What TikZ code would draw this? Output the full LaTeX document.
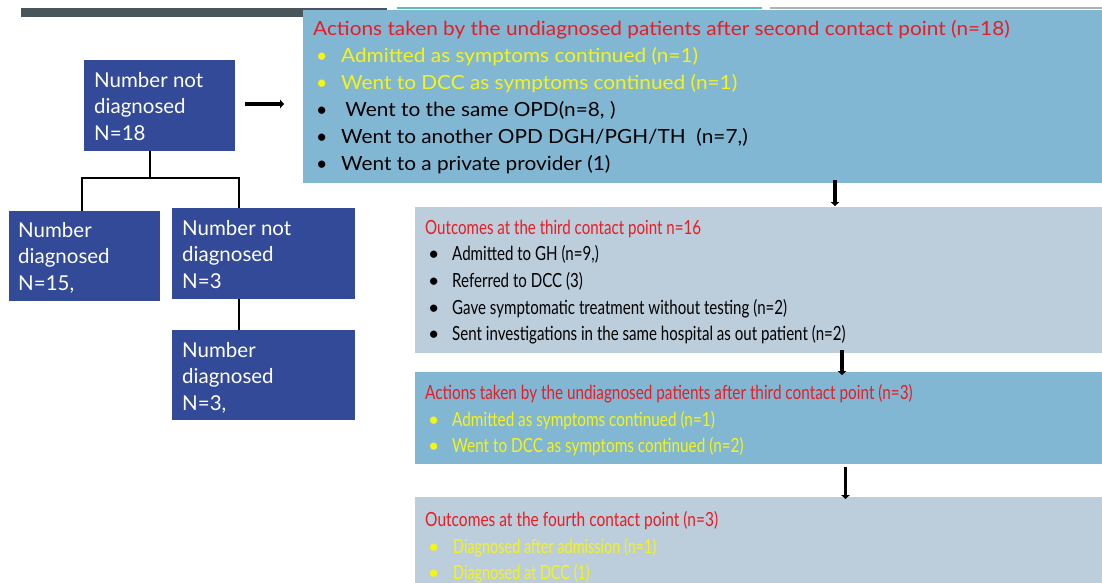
\documentclass[tikz,border=0pt]{standalone}
\usepackage{fontspec}
\setmainfont{Lato}
\usetikzlibrary{arrows.meta}

\definecolor{navybox}{RGB}{51,74,153}
\definecolor{skybox}{RGB}{130,183,212}
\definecolor{greybox}{RGB}{188,206,219}
\definecolor{headred}{RGB}{232,28,36}
\definecolor{hiyellow}{RGB}{246,244,22}
\definecolor{barslate}{RGB}{72,86,92}
\definecolor{barteal}{RGB}{90,190,190}
\definecolor{bargrey}{RGB}{175,178,180}

% horizontal squeeze / stretch of one line
\newcommand\sq[2]{\scalebox{#1}[1]{#2}}
% bullet line: bullet in a fixed-width slot, then the (scaled) text
\newcommand\itm[3][28pt]{\makebox[#1][l]{\hspace{3pt}\textbullet}\sq{#2}{#3}}

% line widths per panel
\newcommand\wA{1.067}
\newcommand\wB{0.774}
\newcommand\wC{0.785}
\newcommand\wD{0.795}
\newcommand\wDn{0.74}

\tikzset{
  panel/.style={draw=none, inner sep=0pt, anchor=north west},
  stat/.style={panel, fill=navybox},
  txt/.style={inner sep=0pt, anchor=north west, align=left},
  wtxt/.style={txt, text=white, font=\fontsize{20.5}{26.5}\selectfont},
  link/.style={line width=2.2pt, black},
  flow/.style={line width=3.4pt, black, -{Triangle[length=4pt,width=8.5pt]}}
}

\begin{document}
\begin{tikzpicture}[x=1pt,y=-1pt]
\useasboundingbox (0,0) rectangle (1102,583);

% title rule along the top
\fill[barslate] (21,8) rectangle (387,17);
\fill[barteal] (397,7.5) rectangle (762,9);
\fill[bargrey] (770,7.5) rectangle (1102,9);

% counts of patients
\node[stat, minimum width=151pt, minimum height=91pt] (nd18) at (84,60) {};
\node[stat, minimum width=151pt, minimum height=90pt] (dg15) at (9,211) {};
\node[stat, minimum width=183pt, minimum height=91pt] (nd3) at (172,208) {};
\node[stat, minimum width=183pt, minimum height=90pt] (dg3) at (172,330) {};

\node[wtxt] (t18) at (94,72) {Number not\\diagnosed\\N=18};
\node[wtxt] (t15) at (18,222) {Number\\diagnosed\\N=15,};
\node[wtxt] (t3a) at (182,220) {Number not\\diagnosed\\N=3};
\node[wtxt] (t3b) at (182,342) {Number\\diagnosed\\N=3,};

% tree of counts
\coordinate (fork) at (150,178);
\draw[link] (nd18.south -| fork) -- (fork);
\draw[link] (dg15.north -| 82,0) |- (fork) -| (nd3.north -| 239,0);
\draw[link] (nd3.south -| 239,0) -- (dg3.north -| 239,0);

% contact point panels
\node[panel, fill=skybox, minimum width=799pt, minimum height=173pt] (act2) at (303,10) {};
\node[panel, fill=greybox, minimum width=687pt, minimum height=146pt] (out3) at (415,207) {};
\node[panel, fill=skybox, minimum width=687pt, minimum height=92pt] (act3) at (415,372) {};
\node[panel, fill=greybox, minimum width=687pt, minimum height=86pt] (out4) at (415,497) {};

\node[txt, font=\fontsize{19.5}{27}\selectfont] (act2t) at (313,20.5) {%
  \textcolor{headred}{\sq{\wA}{Actions taken by the undiagnosed patients after second contact point (n=18)}}\\
  \textcolor{hiyellow}{\itm{\wA}{Admitted as symptoms continued (n=1)}}\\
  \textcolor{hiyellow}{\itm{\wA}{Went to DCC as symptoms continued (n=1)}}\\
  \itm{\wA}{\hspace{4pt}Went to the same OPD(n=8, )}\\
  \itm{\wA}{Went to another OPD DGH/PGH/TH\ \ (n=7,)}\\
  \itm{\wA}{Went to a private provider (1)}};

\node[txt, font=\fontsize{19.5}{26.7}\selectfont] (out3t) at (425,219.5) {%
  \textcolor{headred}{\sq{\wB}{Outcomes at the third contact point n=16}}\\
  \itm[27pt]{\wB}{Admitted to GH (n=9,)}\\
  \itm[27pt]{\wB}{Referred to DCC (3)}\\
  \itm[27pt]{\wB}{Gave symptomatic treatment without testing (n=2)}\\
  \itm[27pt]{\wB}{Sent investigations in the same hospital as out patient (n=2)}};

\node[txt, font=\fontsize{19.5}{26.8}\selectfont] (act3t) at (425,384) {%
  \textcolor{headred}{\sq{\wC}{Actions taken by the undiagnosed patients after third contact point (n=3)}}\\
  \textcolor{hiyellow}{\itm[27pt]{\wC}{Admitted as symptoms continued (n=1)}}\\
  \textcolor{hiyellow}{\itm[27pt]{\wC}{Went to DCC as symptoms continued (n=2)}}};

\node[txt, font=\fontsize{19.5}{26.5}\selectfont] (out4t) at (425,511.5) {%
  \textcolor{headred}{\sq{\wD}{Outcomes at the fourth contact point (n=3)}}\\
  \textcolor{hiyellow}{\itm{\wDn}{Diagnosed after admission (n=1)}}\\
  \textcolor{hiyellow}{\itm{\wDn}{Diagnosed at DCC (1)}}};

% flow between stages
\draw[flow, shorten <=10pt, shorten >=19pt] (nd18.east |- 0,104) -- (act2.west |- 0,104);
\draw[flow, shorten <=-3pt, shorten >=1pt] (act2.south -| 835,0) -- (out3.north -| 835,0);
\draw[flow, shorten <=-3pt, shorten >=-3pt] (out3.south -| 842,0) -- (act3.north -| 842,0);
\draw[flow, shorten <=3pt, shorten >=-2pt] (act3.south -| 845.5,0) -- (out4.north -| 845.5,0);
\end{tikzpicture}
\end{document}
